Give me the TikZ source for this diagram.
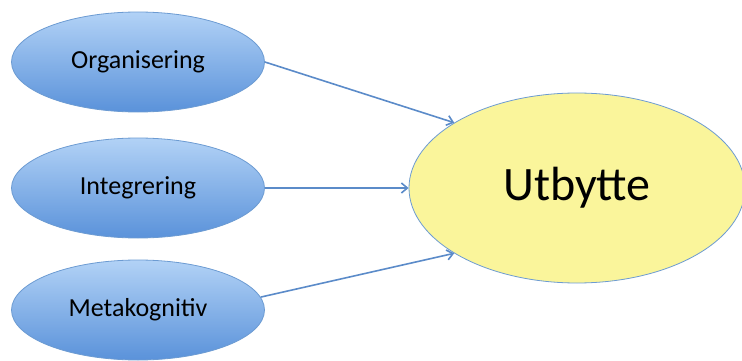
\documentclass[tikz,border=0pt]{standalone}
\usepackage{fontspec}
\setmainfont{Carlito}
\usetikzlibrary{shapes.geometric,arrows.meta}
\definecolor{linkblue}{HTML}{5B8BC9}
\definecolor{rimblue}{HTML}{6C9BD2}
\definecolor{lightblue}{HTML}{B2D2F6}
\definecolor{deepblue}{HTML}{5A92DA}
\definecolor{paleyellow}{HTML}{FAF59B}
\tikzset{
  factor/.style={ellipse, draw=rimblue, line width=0.8pt, top color=lightblue, bottom color=deepblue,
    minimum width=253pt, minimum height=100pt, inner sep=0pt, font=\fontsize{26}{30}\selectfont},
  outcome/.style={ellipse, draw=rimblue, line width=0.8pt, fill=paleyellow,
    minimum width=336pt, minimum height=190pt, inner sep=0pt, font=\fontsize{48}{54}\selectfont},
  link/.style={draw=linkblue, line width=1.6pt, -{Straight Barb[length=6pt,width=10pt]}}
}
\begin{document}
\begin{tikzpicture}[x=1pt,y=-1pt]
  \useasboundingbox (0,0) rectangle (742,361);
  \clip (0,0) rectangle (742,361);
  \node[factor] (org) at (138,62) {Organisering};
  \node[factor] (int) at (138,188) {Integrering};
  \node[factor] (meta) at (138,310) {Metakognitiv};
  \node[outcome] (utb) at (577,188) {Utbytte};
  \draw[link] (org.east) -- (utb.152);
  \draw[link] (int.east) -- (utb.west);
  \draw[link] (meta.6) -- (utb.208);
\end{tikzpicture}
\end{document}
